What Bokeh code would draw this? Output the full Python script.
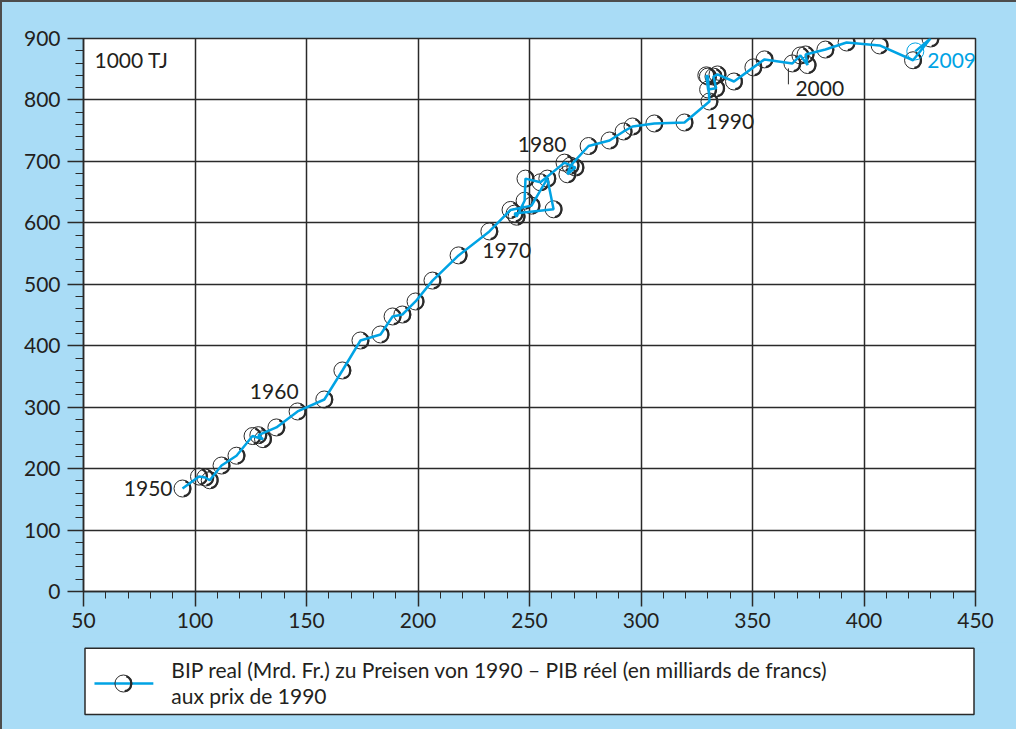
from bokeh.plotting import figure
from bokeh.models import Range1d, SingleIntervalTicker
from bokeh.layouts import column
from bokeh.embed import file_html
from bokeh.resources import INLINE
from bokeh.core.properties import value

# ---------------- data ----------------
years = list(range(1950, 2010))
gdp = [94.4, 101.8, 104.6, 106.6, 111.9, 118.6, 125.8, 130.5, 128.4, 136.5,
       146.0, 158.0, 166.1, 174.2, 183.2, 188.6, 193.0, 198.9, 206.5, 218.2,
       232.0, 241.5, 250.9, 258.0, 260.8, 243.3, 244.2, 247.8, 248.2, 254.9,
       265.7, 270.6, 267.0, 268.4, 276.5, 285.9, 292.2, 296.2, 306.0, 319.5,
       330.7, 330.0, 329.3, 330.1, 333.7, 332.5, 334.3, 341.7, 350.4, 355.4,
       367.9, 371.5, 374.7, 373.8, 382.7, 392.2, 407.0, 422.0, 429.8, 423.0]
energy = [167.6, 187.0, 185.5, 181.0, 205.0, 221.0, 253.0, 247.9, 254.4, 267.0,
          293.0, 312.5, 359.7, 408.5, 418.3, 447.6, 450.8, 472.0, 506.0, 547.0,
          586.0, 621.0, 628.0, 672.0, 622.0, 615.0, 610.0, 636.0, 672.0, 666.0,
          698.0, 690.0, 679.0, 693.0, 725.0, 734.0, 748.7, 756.8, 761.7, 763.3,
          797.5, 838.0, 840.0, 817.0, 819.0, 838.0, 841.5, 830.0, 853.0, 866.0,
          859.4, 872.4, 856.8, 874.0, 882.0, 893.5, 888.7, 864.6, 900.0, 879.0]
labeled_years = [1950, 1960, 1970, 1980, 1990, 2000]
highlight_year = 2009
x_tick_step = 50
y_tick_step = 100
unit_label = "1000 TJ"
legend_line1 = "BIP real (Mrd. Fr.) zu Preisen von 1990 – PIB réel (en milliards de francs)"
legend_line2 = "aux prix de 1990"

# ---------------- styles ----------------
BG = "#a9dcf6"
BLUE = "#00a3e4"
INK = "#2a2a2a"
TXT = "#231f20"
FONT = "Lato"
FS = "21px"

p = figure(width=1014, height=640, x_range=Range1d(50, 450), y_range=Range1d(0, 900),
           output_backend="svg", toolbar_location=None,
           min_border_left=81, min_border_right=41, min_border_top=36, min_border_bottom=51)
p.background_fill_color = "white"
p.border_fill_color = BG
p.outline_line_color = INK
p.outline_line_width = 1.5

p.xaxis.ticker = SingleIntervalTicker(interval=x_tick_step, num_minor_ticks=5)
p.yaxis.ticker = SingleIntervalTicker(interval=y_tick_step, num_minor_ticks=5)
for ax, tout, mout, sto in ((p.xaxis, 15, 7, 6), (p.yaxis, 16, 8, 7)):
    ax.axis_line_color = INK
    ax.axis_line_width = 1.5
    ax.major_tick_line_color = INK
    ax.major_tick_line_width = 1.5
    ax.major_tick_out = tout
    ax.major_tick_in = 0
    ax.minor_tick_line_color = INK
    ax.minor_tick_line_width = 1
    ax.minor_tick_out = mout
    ax.minor_tick_in = 0
    ax.major_label_text_font = FONT
    ax.major_label_text_font_size = FS
    ax.major_label_text_color = TXT
    ax.major_label_standoff = sto
p.xgrid.grid_line_color = INK
p.ygrid.grid_line_color = INK
p.xgrid.grid_line_width = 1.5
p.ygrid.grid_line_width = 1.5

# markers
hi = years.index(highlight_year)
bx = gdp[:hi] + gdp[hi + 1:]
by = energy[:hi] + energy[hi + 1:]
p.scatter(bx, by, size=17, marker="circle", fill_color=None, line_color=INK, line_width=1)
p.arc(bx, by, radius=7.8, radius_units="screen", start_angle=-1.4, end_angle=1.2,
      line_color=INK, line_width=2.2)
p.scatter([gdp[hi]], [energy[hi]], size=17, marker="circle", fill_color=None,
          line_color=BLUE, line_width=1)

# series line
p.line(gdp, energy, line_color=BLUE, line_width=2.5)

# year labels
idx = [years.index(y) for y in labeled_years]
p.text(x=[gdp[i] for i in idx], y=[energy[i] for i in idx], text=[str(y) for y in labeled_years],
       x_offset=[-10, 1, -7, 2, -4, 3], y_offset=[0, -20, 19, -18, 20, 25],
       text_align=["right", "right", "left", "right", "left", "left"], text_baseline="middle",
       text_font=value(FONT), text_font_size=FS, text_color=TXT)
i2000 = years.index(2000)
p.segment(x0=[gdp[i2000] - 1.8], y0=[energy[i2000] - 8], x1=[gdp[i2000] - 1.8],
          y1=[energy[i2000] - 34], line_color=INK, line_width=1)
p.text(x=[gdp[hi]], y=[energy[hi]], text=[str(highlight_year)], x_offset=12, y_offset=9,
       text_align="left", text_baseline="middle", text_font=value(FONT), text_font_size=FS,
       text_color=BLUE)
p.text(x=[50], y=[900], text=[unit_label], x_offset=11, y_offset=21, text_align="left",
       text_baseline="middle", text_font=value(FONT), text_font_size=FS, text_color=TXT)

# ---------------- legend panel (its frame is aligned with the chart frame) ----------------
lg = figure(width=1014, height=87, x_range=Range1d(90, 984), y_range=Range1d(0, 87),
            x_axis_type=None, y_axis_type=None, output_backend="svg", toolbar_location=None,
            min_border=0)
lg.background_fill_color = BG
lg.border_fill_color = BG
lg.outline_line_color = None
lg.quad(left=91.5, right=982.5, top=81.3, bottom=15, fill_color="white", line_color=INK, line_width=1.5)
lg.line([101, 160], [46, 46], line_color=BLUE, line_width=2.5)
lg.scatter([130], [46], size=17, marker="circle", fill_color=None, line_color=INK, line_width=1)
lg.arc([130], [46], radius=7.8, radius_units="screen", start_angle=-1.4, end_angle=1.2,
       line_color=INK, line_width=2.2)
lg.text(x=[178, 178], y=[60, 34], text=[legend_line1, legend_line2], text_align="left",
        text_baseline="middle", text_font=value(FONT), text_font_size=FS, text_color=TXT)

layout = column(p, lg, styles={"border-left": "2px solid #4d4d4d", "border-top": "2px solid #4d4d4d",
                               "background-color": BG})

open("out.html", "w").write(file_html(layout, INLINE))
